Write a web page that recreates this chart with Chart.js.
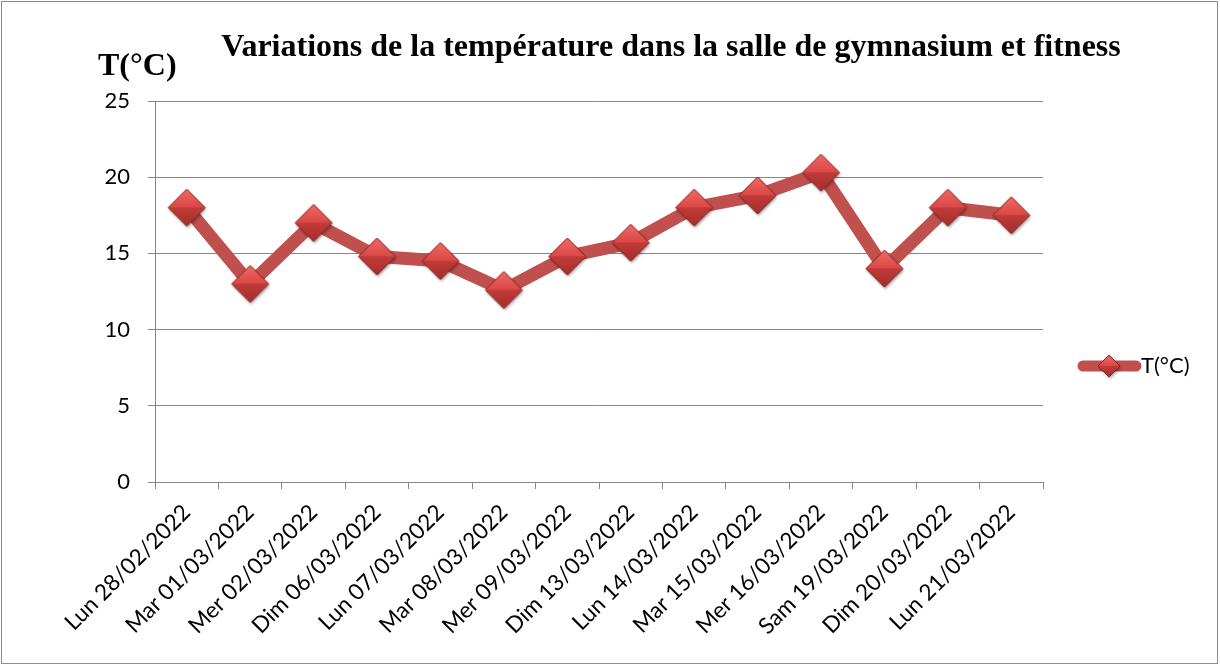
<!DOCTYPE html>
<html>
<head>
<meta charset="utf-8">
<script src="https://cdn.jsdelivr.net/npm/chart.js@4.4.1/dist/chart.umd.min.js"></script>
<style>
  html, body { margin: 0; padding: 0; background: #fff; }
  #wrap { width: 1220px; height: 666px; position: relative; }
</style>
</head>
<body>
<div id="wrap"><canvas id="tempChart" width="1220" height="666"></canvas></div>
<script>
const days = [
  "Lun 28/02/2022", "Mar 01/03/2022", "Mer 02/03/2022", "Dim 06/03/2022",
  "Lun 07/03/2022", "Mar 08/03/2022", "Mer 09/03/2022", "Dim 13/03/2022",
  "Lun 14/03/2022", "Mar 15/03/2022", "Mer 16/03/2022", "Sam 19/03/2022",
  "Dim 20/03/2022", "Lun 21/03/2022"
];
const temps = [18, 13, 17, 14.8, 14.5, 12.6, 14.8, 15.7, 18, 18.8, 20.3, 14, 18, 17.5];
const seriesName = "T(°C)";
const chartTitle = "Variations de la température dans la salle de gymnasium et fitness";
const axisTitle = "T(°C)";

const lineColor = "#C0504D";
const gridColor = "#868686";

// diamond marker with a bit of shading, like the office style
function makeDiamond(size) {
  const pad = 5;
  const c = document.createElement("canvas");
  c.width = size + pad * 2;
  c.height = size + pad * 2;
  const g = c.getContext("2d");
  const h = size / 2;
  const cx = c.width / 2, cy = c.height / 2;

  // shadow
  g.save();
  g.shadowColor = "rgba(0,0,0,0.35)";
  g.shadowBlur = 3;
  g.shadowOffsetX = 1;
  g.shadowOffsetY = 2;
  g.beginPath();
  g.moveTo(cx, cy - h); g.lineTo(cx + h, cy); g.lineTo(cx, cy + h); g.lineTo(cx - h, cy);
  g.closePath();
  g.fillStyle = "#B8403D";
  g.fill();
  g.restore();

  // top half
  let gr = g.createLinearGradient(cx, cy - h, cx, cy);
  gr.addColorStop(0, "#F26865");
  gr.addColorStop(1, "#D94845");
  g.beginPath();
  g.moveTo(cx, cy - h); g.lineTo(cx + h, cy); g.lineTo(cx - h, cy); g.closePath();
  g.fillStyle = gr;
  g.fill();

  // bottom half
  gr = g.createLinearGradient(cx, cy, cx, cy + h);
  gr.addColorStop(0, "#C23A37");
  gr.addColorStop(1, "#A32F2D");
  g.beginPath();
  g.moveTo(cx - h, cy); g.lineTo(cx + h, cy); g.lineTo(cx, cy + h); g.closePath();
  g.fillStyle = gr;
  g.fill();

  g.beginPath();
  g.moveTo(cx, cy - h); g.lineTo(cx + h, cy); g.lineTo(cx, cy + h); g.lineTo(cx - h, cy);
  g.closePath();
  g.strokeStyle = "#7E2624";
  g.lineWidth = 1;
  g.stroke();
  return c;
}

const marker = makeDiamond(37);
const legendMarker = makeDiamond(22);

const extras = {
  id: "extras",
  afterDraw(chart) {
    const ctx = chart.ctx;
    ctx.save();
    // outer frame
    ctx.strokeStyle = "#8c8c8c";
    ctx.lineWidth = 1;
    ctx.strokeRect(1.5, 1.5, 1216, 662);

    // titles
    ctx.fillStyle = "#000";
    ctx.font = "bold 32px 'Liberation Serif'";
    ctx.textBaseline = "alphabetic";
    ctx.textAlign = "center";
    ctx.fillText(chartTitle, 671, 56);
    ctx.textAlign = "left";
    ctx.fillText(axisTitle, 98, 75);

    // legend
    const ly = 366;
    ctx.strokeStyle = lineColor;
    ctx.lineWidth = 11;
    ctx.lineCap = "round";
    ctx.beginPath();
    ctx.moveTo(1083, ly);
    ctx.lineTo(1136, ly);
    ctx.stroke();
    ctx.drawImage(legendMarker, 1109 - legendMarker.width / 2, ly - legendMarker.height / 2);
    ctx.font = "22px Lato";
    ctx.textBaseline = "middle";
    ctx.fillText(seriesName, 1141, ly);
    ctx.restore();
  }
};

new Chart(document.getElementById("tempChart"), {
  type: "line",
  data: {
    labels: days,
    datasets: [{
      label: seriesName,
      data: temps,
      borderColor: lineColor,
      borderWidth: 13,
      tension: 0,
      fill: false,
      pointStyle: marker,
      pointRadius: 18,
      pointHoverRadius: 18
    }]
  },
  options: {
    responsive: false,
    animation: false,
    events: [],
    layout: { padding: { top: 101, left: 0, right: 177, bottom: 0 } },
    plugins: {
      legend: { display: false },
      title: { display: false },
      tooltip: { enabled: false }
    },
    scales: {
      x: {
        offset: true,
        grid: {
          display: true,
          offset: true,
          drawOnChartArea: false,
          drawTicks: true,
          tickLength: 7,
          color: gridColor
        },
        border: { color: gridColor, width: 1 },
        ticks: {
          autoSkip: false,
          maxRotation: 45,
          minRotation: 45,
          color: "#000",
          padding: 10,
          font: { family: "Lato", size: 22.5 }
        },
        afterFit(scale) { scale.height = 184; }
      },
      y: {
        min: 0,
        max: 25,
        grid: {
          color: gridColor,
          tickLength: 7,
          drawTicks: true
        },
        border: { color: gridColor, width: 1 },
        ticks: {
          stepSize: 5,
          color: "#000",
          padding: 18,
          font: { family: "Lato", size: 22 }
        },
        afterFit(scale) { scale.width = 155; }
      }
    }
  },
  plugins: [extras]
});
</script>
</body>
</html>
